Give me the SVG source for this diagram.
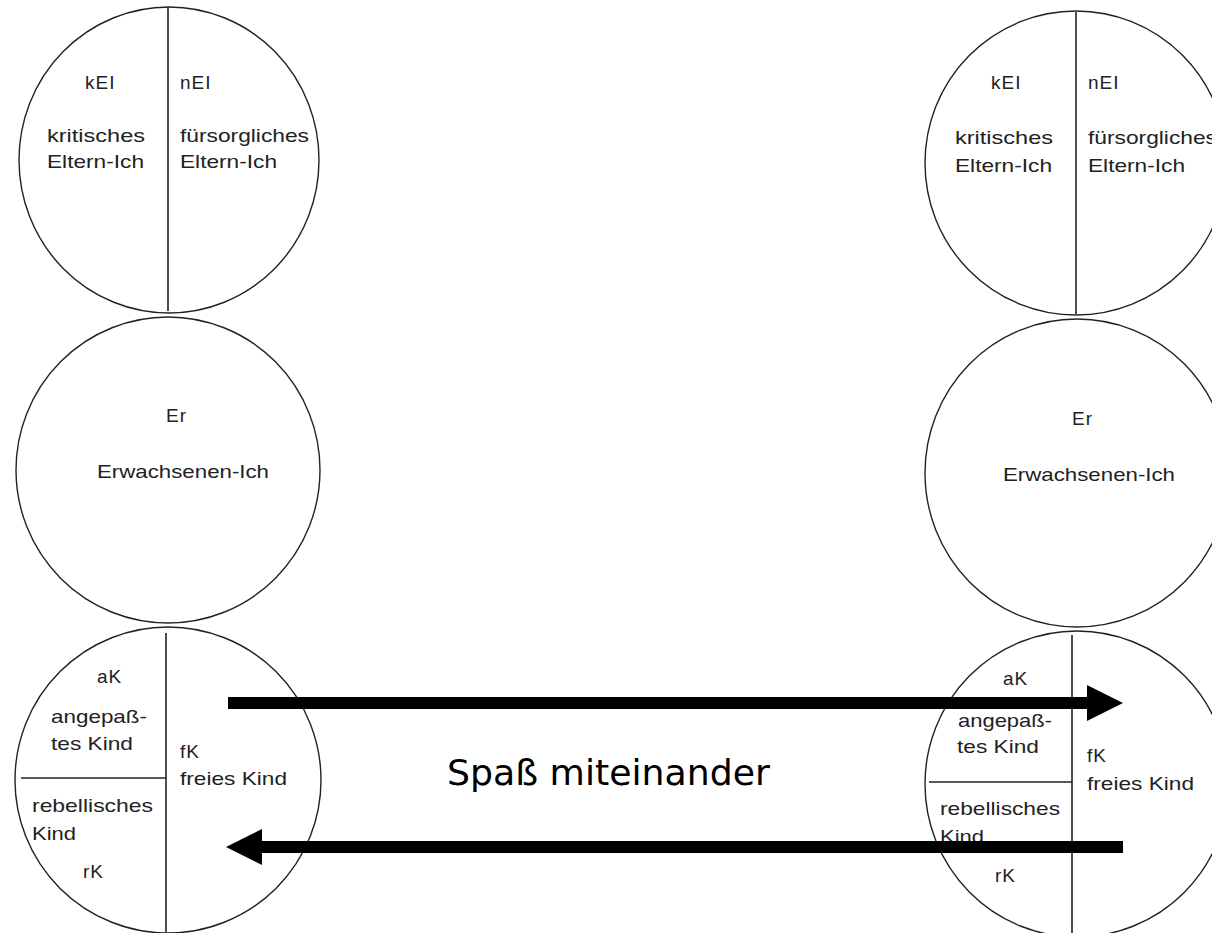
<svg xmlns="http://www.w3.org/2000/svg" width="1212" height="933" viewBox="0 0 1212 933">
<style>
.c{fill:none;stroke:#222;stroke-width:1.4}
.d{stroke:#222;stroke-width:1.6}
.t{font-family:"Liberation Sans",Arial,sans-serif;font-size:19px;fill:#222}
.s{letter-spacing:1px}
.big{font-family:"DejaVu Sans",Tahoma,sans-serif;font-size:36px;fill:#000}
.a{stroke:#000;stroke-width:12;fill:none}
</style>
<defs>
<marker id="ah" markerUnits="userSpaceOnUse" markerWidth="36" markerHeight="36" viewBox="0 0 36 36" refX="0" refY="18" orient="auto">
<path d="M0,0 L36,18 L0,36 z" fill="#000"/>
</marker>
</defs>
<rect width="1212" height="933" fill="#fff"/>

<g id="left-parent">
<ellipse class="c" cx="169" cy="160" rx="150" ry="153"/>
<line class="d" x1="168" y1="7" x2="168" y2="311"/>
<text class="t s" x="85" y="89">kEI</text>
<text class="t s" x="180" y="89">nEI</text>
<text class="t" x="47" y="142" textLength="98" lengthAdjust="spacingAndGlyphs">kritisches</text>
<text class="t" x="47" y="168" textLength="97" lengthAdjust="spacingAndGlyphs">Eltern-Ich</text>
<text class="t" x="180" y="142" textLength="129" lengthAdjust="spacingAndGlyphs">fürsorgliches</text>
<text class="t" x="180" y="168" textLength="97" lengthAdjust="spacingAndGlyphs">Eltern-Ich</text>
</g>

<g id="left-adult">
<ellipse class="c" cx="168" cy="470" rx="152" ry="153"/>
<text class="t s" x="166" y="422">Er</text>
<text class="t" x="97" y="478" textLength="172" lengthAdjust="spacingAndGlyphs">Erwachsenen-Ich</text>
</g>

<g id="left-child">
<ellipse class="c" cx="168" cy="780" rx="153" ry="153"/>
<line class="d" x1="166" y1="633" x2="166" y2="932"/>
<line class="d" x1="21" y1="778" x2="166" y2="778"/>
<text class="t s" x="97" y="683">aK</text>
<text class="t" x="51" y="723" textLength="96" lengthAdjust="spacingAndGlyphs">angepaß-</text>
<text class="t" x="51" y="750" textLength="82" lengthAdjust="spacingAndGlyphs">tes Kind</text>
<text class="t s" x="180" y="758">fK</text>
<text class="t" x="180" y="785" textLength="107" lengthAdjust="spacingAndGlyphs">freies Kind</text>
<text class="t" x="32" y="812" textLength="121" lengthAdjust="spacingAndGlyphs">rebellisches</text>
<text class="t" x="32" y="840" textLength="44" lengthAdjust="spacingAndGlyphs">Kind</text>
<text class="t s" x="83" y="878">rK</text>
</g>

<g id="right-parent">
<ellipse class="c" cx="1076" cy="163" rx="151" ry="152"/>
<line class="d" x1="1076" y1="12" x2="1076" y2="314"/>
<text class="t s" x="991" y="89">kEI</text>
<text class="t s" x="1088" y="89">nEI</text>
<text class="t" x="955" y="144" textLength="98" lengthAdjust="spacingAndGlyphs">kritisches</text>
<text class="t" x="955" y="172" textLength="97" lengthAdjust="spacingAndGlyphs">Eltern-Ich</text>
<text class="t" x="1088" y="144" textLength="129" lengthAdjust="spacingAndGlyphs">fürsorgliches</text>
<text class="t" x="1088" y="172" textLength="97" lengthAdjust="spacingAndGlyphs">Eltern-Ich</text>
</g>

<g id="right-adult">
<ellipse class="c" cx="1077" cy="473" rx="152" ry="154"/>
<text class="t s" x="1072" y="425">Er</text>
<text class="t" x="1003" y="481" textLength="172" lengthAdjust="spacingAndGlyphs">Erwachsenen-Ich</text>
</g>

<g id="right-child">
<ellipse class="c" cx="1077" cy="784" rx="152" ry="153"/>
<line class="d" x1="1072" y1="635" x2="1072" y2="933"/>
<line class="d" x1="929" y1="782" x2="1072" y2="782"/>
<text class="t s" x="1003" y="685">aK</text>
<text class="t" x="958" y="727" textLength="94" lengthAdjust="spacingAndGlyphs">angepaß-</text>
<text class="t" x="957" y="753" textLength="82" lengthAdjust="spacingAndGlyphs">tes Kind</text>
<text class="t s" x="1087" y="762">fK</text>
<text class="t" x="1087" y="790" textLength="107" lengthAdjust="spacingAndGlyphs">freies Kind</text>
<text class="t" x="940" y="815" textLength="120" lengthAdjust="spacingAndGlyphs">rebellisches</text>
<text class="t" x="940" y="843" textLength="44" lengthAdjust="spacingAndGlyphs">Kind</text>
<text class="t s" x="995" y="882">rK</text>
</g>

<g id="connectors">
<line class="a" x1="228" y1="703" x2="1087" y2="703" marker-end="url(#ah)"/>
<line class="a" x1="1123" y1="847" x2="262" y2="847" marker-end="url(#ah)"/>
</g>

<g id="label">
<text class="big" x="447" y="785" textLength="323" lengthAdjust="spacingAndGlyphs">Spaß miteinander</text>
</g>
</svg>
